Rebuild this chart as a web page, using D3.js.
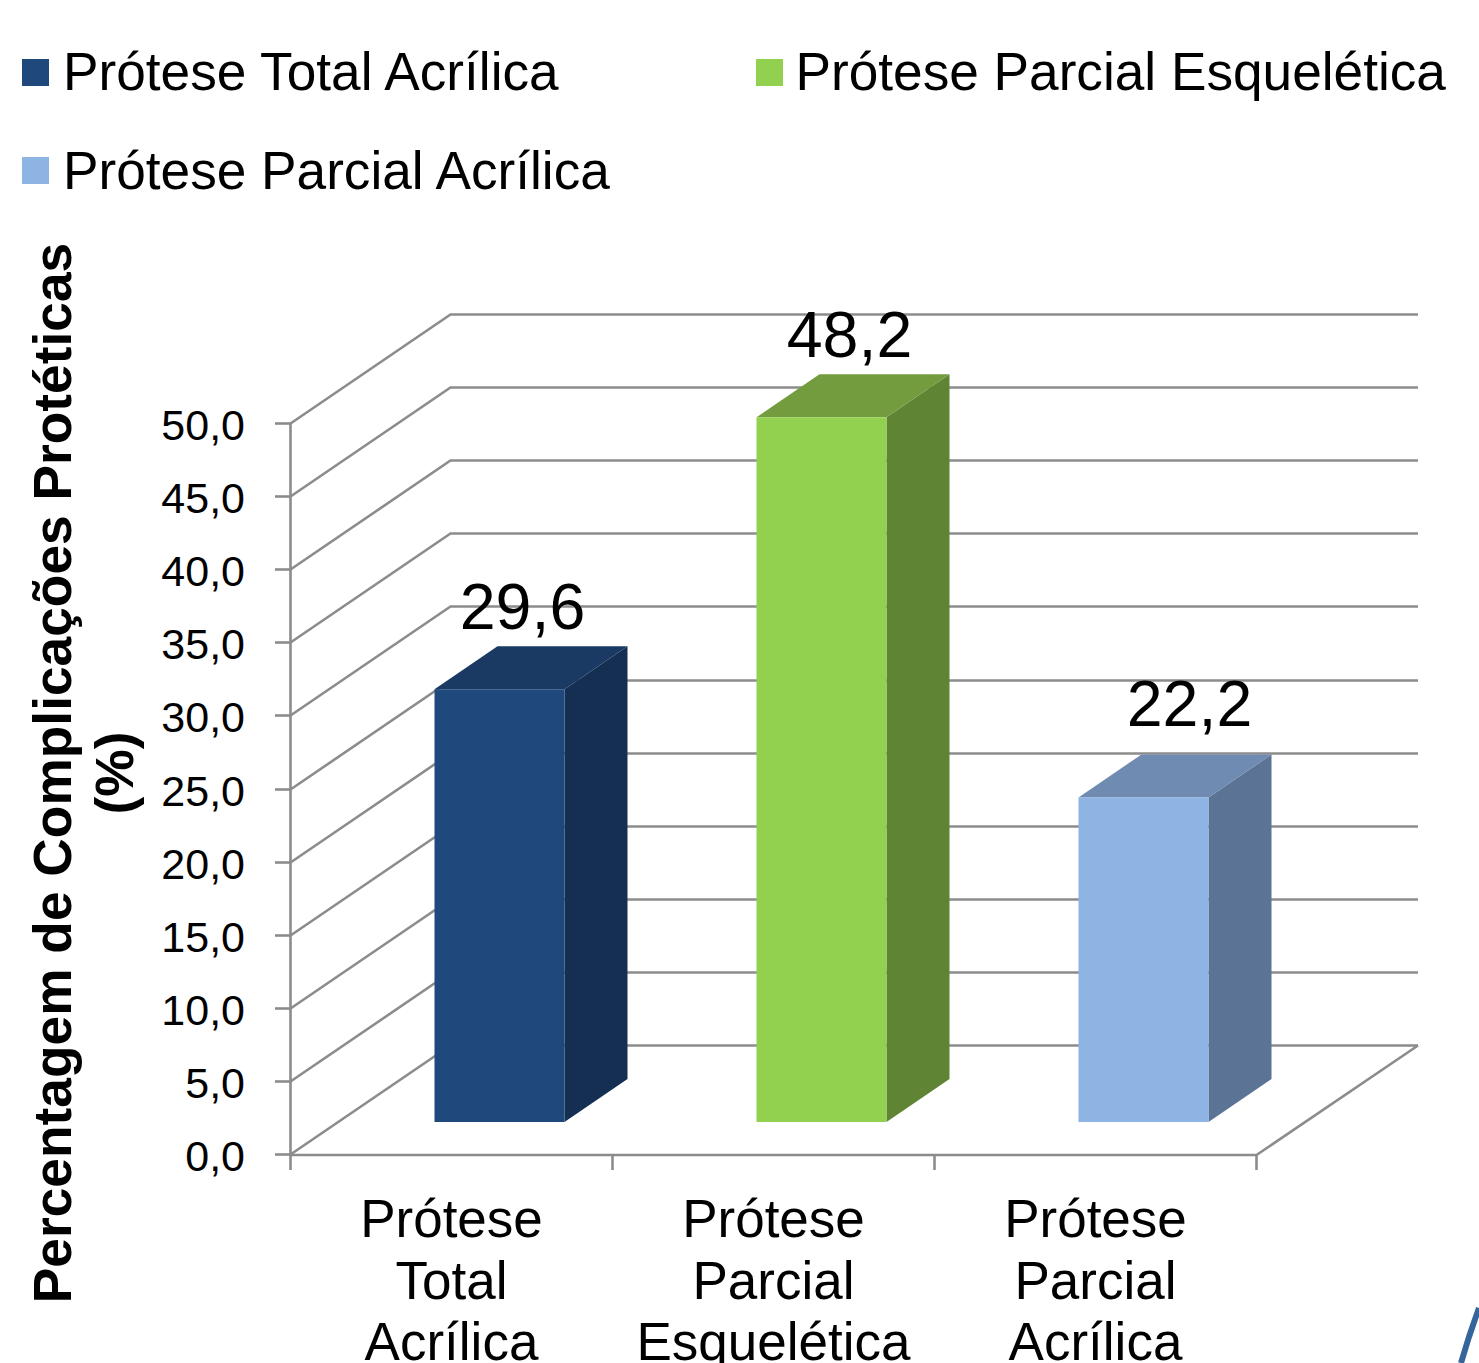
<!DOCTYPE html>
<html><head><meta charset="utf-8">
<script src="https://cdnjs.cloudflare.com/ajax/libs/d3/7.8.5/d3.min.js"></script>
<style>html,body{margin:0;padding:0;background:#fff}svg{display:block}text{font-family:"Liberation Sans",Arial,sans-serif;fill:#000}</style>
</head><body><svg id="c" width="1479" height="1363"></svg>
<script>
const categories=[["Prótese","Total","Acrílica"],["Prótese","Parcial","Esquelética"],["Prótese","Parcial","Acrílica"]];
const seriesNames=["Prótese Total Acrílica","Prótese Parcial Esquelética","Prótese Parcial Acrílica"];
const values=[29.6,48.2,22.2];
const valueLabels=["29,6","48,2","22,2"];
const labelOffsets=[[23,-60],[28,-60],[46,-71]];
const tickValues=[0,5,10,15,20,25,30,35,40,45,50];
const front=["#1F497D","#92D050","#8EB4E3"];
const top_=["#1A3A63","#739C3F","#6F8BB2"];
const side=["#152F52","#5F8434","#5B7394"];
const axisTitle=["Percentagem de Complicações Protéticas","(%)"];

const svg=d3.select("#c");
const y=d3.scaleLinear().domain([0,50]).range([1154,423]);
const x=d3.scaleBand().domain([0,1,2]).range([290.5,1256.5]);
const dx=160,dy=-109;
const gridCol="#8c8c8c",sw=2.6;
const g=svg.append("g").attr("fill","none").attr("stroke",gridCol).attr("stroke-width",sw);
tickValues.forEach(t=>{
  const Y=Math.round(y(t))+.5;
  g.append("path").attr("d",`M290.5 ${Y}L${290.5+dx} ${Y+dy}L1418 ${Y+dy}`);
  svg.append("line").attr("x1",275).attr("x2",290.5).attr("y1",Y).attr("y2",Y).attr("stroke",gridCol).attr("stroke-width",sw);
  svg.append("text").attr("x",245).attr("y",Y+16).attr("text-anchor","end").attr("font-size",43).text(d3.format(".1f")(t).replace(".",","));
});
g.append("path").attr("d",`M290.5 ${y(50)}V1155H1256.5L1418 1045.5`);
[0,1,2,3].forEach(i=>{
  const X=290.5+i*x.step();
  svg.append("line").attr("x1",X).attr("x2",X).attr("y1",1155).attr("y2",1170).attr("stroke",gridCol).attr("stroke-width",sw);
});
const w=130,dxb=63,dyb=-43,base=1122,h=v=>1154-y(v);
values.forEach((v,i)=>{
  const L=x(i)+x.bandwidth()/2+48-w/2, R=L+w, T=base-h(v);
  svg.append("path").attr("fill",side[i]).attr("d",`M${R} ${T}L${R+dxb} ${T+dyb}V${base+dyb}L${R} ${base}Z`);
  svg.append("path").attr("fill",top_[i]).attr("d",`M${L} ${T}L${L+dxb} ${T+dyb}H${R+dxb}L${R} ${T}Z`);
  svg.append("rect").attr("x",L).attr("y",T).attr("width",w).attr("height",base-T).attr("fill",front[i]);
  svg.append("text").attr("x",L+w/2+labelOffsets[i][0]).attr("y",T+labelOffsets[i][1]).attr("text-anchor","middle").attr("font-size",64.5).text(valueLabels[i]);
  categories[i].forEach((s,j)=>svg.append("text").attr("x",x(i)+x.bandwidth()/2).attr("y",1237+j*61.5).attr("text-anchor","middle").attr("font-size",53).text(s));
});
[[22,59,63,90],[756,59,795.5,90],[22,157,63,188.5]].forEach((p,i)=>{
  svg.append("rect").attr("x",p[0]).attr("y",p[1]).attr("width",27).attr("height",27).attr("fill",front[i]);
  svg.append("text").attr("x",p[2]).attr("y",p[3]).attr("font-size",53.2).text(seriesNames[i]);
});
axisTitle.forEach((s,i)=>svg.append("text").attr("transform",`translate(${[71,133][i]},773) rotate(-90)`).attr("text-anchor","middle").attr("font-size",53.3).attr("font-weight","bold").text(s));
svg.append("path").attr("d","M1461 1363Q1469 1335 1479 1308").attr("fill","none").attr("stroke","#35659b").attr("stroke-width",6);
</script></body></html>
